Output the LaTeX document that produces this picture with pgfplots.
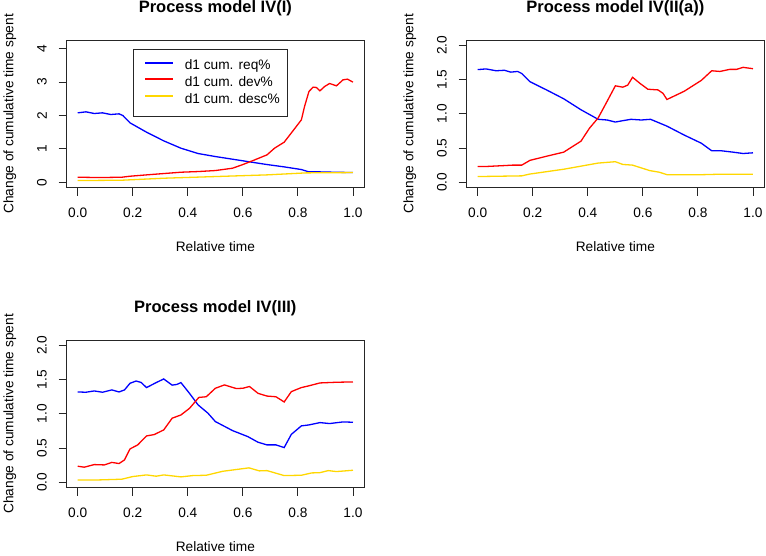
\documentclass[border=0pt]{standalone}
\usepackage{pgfplots}
\pgfplotsset{compat=1.18}
\usepackage{fontspec}
\setmainfont{Liberation Sans}
\definecolor{rblue}{RGB}{0,0,255}
\definecolor{rred}{RGB}{255,0,0}
\definecolor{rgold}{RGB}{255,215,0}
\pgfplotsset{
  every axis title shift=0pt,
  rpanel/.style={
    scale only axis, width=297.3pt, height=147.7pt, anchor=south west,
    xmin=-0.04, xmax=1.04,
    xtick={0,0.2,0.4,0.6,0.8,1}, xticklabels={0.0,0.2,0.4,0.6,0.8,1.0},
    tick align=outside, xtick pos=bottom, ytick pos=left,
    major tick length=8pt,
    axis line style={line width=0.9pt, black!85},
    every tick/.style={line width=0.9pt, black!85},
    tick label style={font=\fontsize{13.7}{16}\selectfont},
    xticklabel style={anchor=north, inner sep=0pt, yshift=-12.3pt},
    yticklabel style={anchor=center, inner sep=0pt, xshift=-16.7pt, rotate=90},
    label style={font=\fontsize{13.7}{16}\selectfont},
    xlabel={Relative time},
    ylabel={Change of cumulative time spent},
    xlabel style={at={(axis description cs:0.5,-0.396)}, anchor=center},
    ylabel style={at={(axis description cs:-0.1917,0.5)}, anchor=center, rotate=0},
    title style={font=\fontsize{16.5}{19}\selectfont\bfseries, at={(axis description cs:0.5,1.185)}, anchor=base},
    clip=false,
  },
  req/.style={rblue, line width=1.3pt},
  dev/.style={rred, line width=1.3pt},
  desc/.style={rgold, line width=1.3pt},
}
\begin{document}
\begin{tikzpicture}
\path[use as bounding box] (0,0) rectangle (766pt,556pt);
% Panel 1
\begin{axis}[rpanel, at={(66.7pt,368.3pt)},
  title={Process model IV(I)},
  ymin=-0.164, ymax=4.264, ytick={0,1,2,3,4}, yticklabels={0,1,2,3,4},
  legend cell align=left,
  legend image code/.code={\path (0pt,0pt); \draw[#1, line width=2pt] (3.6pt,3.6pt) -- (31.3pt,3.6pt);},
  legend style={at={(axis description cs:0.222,0.939)}, anchor=north west,
    draw=black!85, line width=0.9pt, inner xsep=7.7pt, inner ysep=10.4pt,
    row sep=4pt, font=\fontsize{13.7}{16}\selectfont,
    nodes={inner sep=0pt, text height=9.8pt, text depth=2.9pt},
    /tikz/every odd column/.append style={column sep=11pt},
    /tikz/every even column/.append style={column sep=0pt}},
]
\addplot[req] coordinates {(0,2.08)(0.02,2.10)(0.03,2.11)(0.06,2.06)(0.09,2.08)(0.12,2.03)(0.15,2.05)(0.164,2.00)(0.19,1.78)(0.25,1.50)(0.3125,1.24)(0.375,1.02)(0.4375,0.86)(0.5,0.77)(0.5625,0.69)(0.625,0.61)(0.6875,0.53)(0.75,0.46)(0.8125,0.38)(0.84,0.31)(0.88,0.31)(0.93,0.30)(1,0.29)};
\addlegendentry{d1 cum. req\%}
\addplot[dev] coordinates {(0,0.15)(0.08,0.14)(0.16,0.15)(0.19,0.18)(0.25,0.22)(0.3125,0.26)(0.375,0.30)(0.4375,0.32)(0.5,0.35)(0.5625,0.42)(0.60,0.53)(0.64,0.66)(0.6875,0.82)(0.715,1.02)(0.75,1.20)(0.78,1.52)(0.8125,1.87)(0.824,2.27)(0.84,2.72)(0.855,2.85)(0.867,2.84)(0.88,2.74)(0.897,2.87)(0.915,2.96)(0.94,2.89)(0.964,3.07)(0.98,3.09)(1,3.00)};
\addlegendentry{d1 cum. dev\%}
\addplot[desc] coordinates {(0,0.05)(0.16,0.06)(0.3125,0.12)(0.5,0.17)(0.6875,0.22)(0.83,0.28)(1,0.29)};
\addlegendentry{d1 cum. desc\%}
\end{axis}
% Panel 2
\begin{axis}[rpanel, at={(466.7pt,368.3pt)},
  title={Process model IV(II(a))},
  ymin=-0.08, ymax=2.08, ytick={0,0.5,1,1.5,2}, yticklabels={0.0,0.5,1.0,1.5,2.0},
]
\addplot[req] coordinates {(0,1.647)(0.03,1.657)(0.067,1.63)(0.097,1.637)(0.12,1.61)(0.145,1.62)(0.16,1.59)(0.19,1.47)(0.25,1.35)(0.3125,1.22)(0.375,1.06)(0.4375,0.92)(0.47,0.91)(0.5,0.88)(0.527,0.90)(0.557,0.92)(0.594,0.91)(0.628,0.92)(0.6875,0.82)(0.75,0.69)(0.8125,0.57)(0.85,0.46)(0.885,0.46)(0.927,0.44)(0.964,0.42)(1,0.43)};
\addplot[dev] coordinates {(0,0.23)(0.03,0.23)(0.08,0.24)(0.127,0.25)(0.16,0.25)(0.19,0.32)(0.25,0.38)(0.3125,0.44)(0.375,0.60)(0.406,0.79)(0.4375,0.94)(0.467,1.16)(0.5,1.41)(0.527,1.39)(0.545,1.42)(0.5625,1.535)(0.588,1.45)(0.618,1.36)(0.655,1.35)(0.673,1.30)(0.6875,1.21)(0.75,1.33)(0.8125,1.49)(0.85,1.63)(0.88,1.62)(0.915,1.65)(0.94,1.65)(0.964,1.68)(1,1.66)};
\addplot[desc] coordinates {(0,0.083)(0.08,0.088)(0.16,0.093)(0.19,0.12)(0.3125,0.19)(0.4375,0.28)(0.5,0.30)(0.527,0.26)(0.5625,0.25)(0.625,0.17)(0.66,0.146)(0.6875,0.11)(0.8125,0.11)(0.88,0.117)(1,0.117)};
\end{axis}
% Panel 3
\begin{axis}[rpanel, at={(66.7pt,68.3pt)},
  title={Process model IV(III)},
  ymin=-0.08, ymax=2.08, ytick={0,0.5,1,1.5,2}, yticklabels={0.0,0.5,1.0,1.5,2.0},
]
\addplot[req] coordinates {(0,1.32)(0.03,1.316)(0.06,1.335)(0.09,1.316)(0.124,1.35)(0.15,1.32)(0.17,1.35)(0.19,1.447)(0.212,1.48)(0.23,1.46)(0.25,1.384)(0.285,1.457)(0.3125,1.51)(0.343,1.42)(0.36,1.43)(0.375,1.457)(0.406,1.30)(0.4375,1.13)(0.473,1.01)(0.5,0.887)(0.5625,0.755)(0.618,0.667)(0.655,0.585)(0.6875,0.546)(0.72,0.546)(0.75,0.507)(0.776,0.70)(0.8125,0.824)(0.84,0.838)(0.88,0.872)(0.915,0.858)(0.964,0.882)(1,0.877)};
\addplot[dev] coordinates {(0,0.234)(0.024,0.22)(0.06,0.258)(0.097,0.253)(0.124,0.29)(0.15,0.273)(0.17,0.326)(0.19,0.487)(0.218,0.546)(0.25,0.677)(0.278,0.697)(0.3125,0.765)(0.343,0.936)(0.375,0.984)(0.406,1.08)(0.44,1.24)(0.467,1.25)(0.5,1.374)(0.533,1.423)(0.576,1.37)(0.6,1.374)(0.624,1.40)(0.655,1.30)(0.6875,1.26)(0.72,1.25)(0.75,1.174)(0.776,1.325)(0.8125,1.384)(0.84,1.41)(0.88,1.452)(0.94,1.462)(1,1.467)};
\addplot[desc] coordinates {(0,0.034)(0.08,0.034)(0.16,0.044)(0.2,0.083)(0.25,0.107)(0.285,0.088)(0.3125,0.107)(0.375,0.078)(0.418,0.097)(0.467,0.102)(0.527,0.16)(0.622,0.21)(0.66,0.166)(0.6875,0.17)(0.75,0.097)(0.8125,0.102)(0.85,0.136)(0.88,0.14)(0.91,0.17)(0.94,0.156)(1,0.175)};
\end{axis}
\end{tikzpicture}
\end{document}
